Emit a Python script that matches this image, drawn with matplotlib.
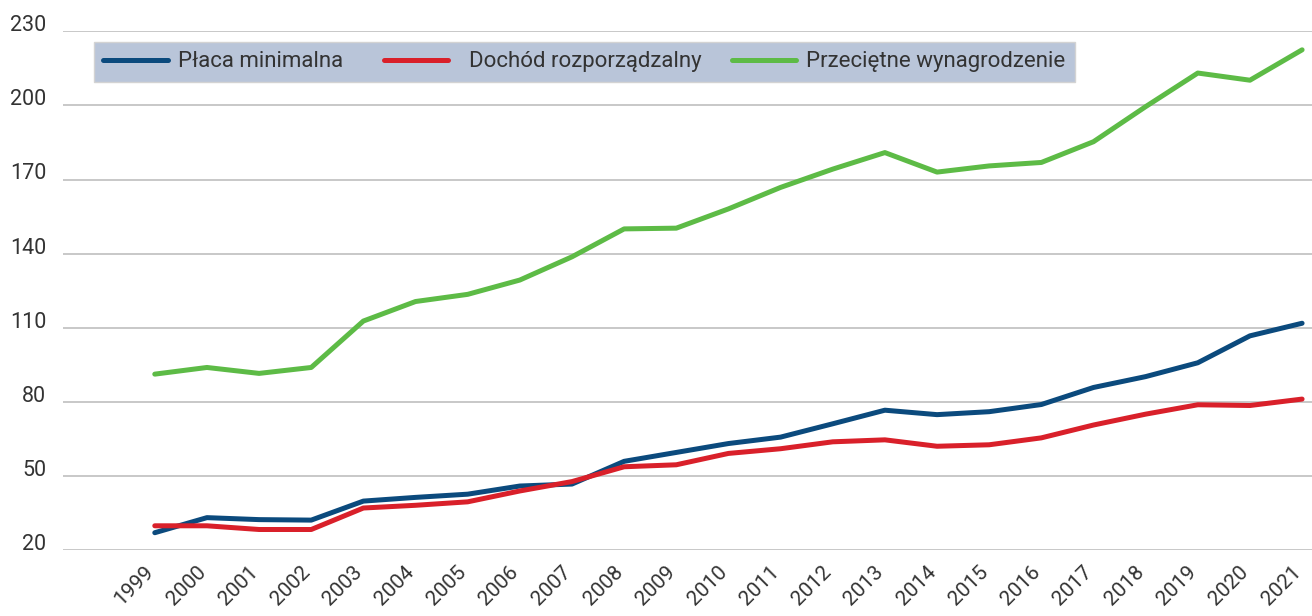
import matplotlib
matplotlib.use('Agg')
import matplotlib.pyplot as plt
import matplotlib.transforms as mtransforms

years = list(range(1999, 2022))

placa_minimalna = [27.0, 33.1, 32.3, 32.1, 39.8, 41.3, 42.6, 45.9, 46.7, 55.9, 59.5,
                   63.1, 65.7, 71.1, 76.6, 74.8, 76.0, 78.9, 85.8, 90.2, 95.8, 106.7, 111.8]
dochod_rozporzadzalny = [29.8, 29.8, 28.3, 28.3, 37.0, 38.1, 39.5, 43.9, 47.7, 53.7, 54.5,
                         59.1, 61.0, 63.8, 64.6, 62.0, 62.6, 65.4, 70.6, 75.0, 78.8, 78.5, 81.1]
przecietne_wynagrodzenie = [91.2, 93.9, 91.5, 93.9, 112.7, 120.6, 123.5, 129.3, 138.7, 150.0, 150.3,
                            158.1, 166.8, 174.2, 180.9, 173.0, 175.5, 176.9, 185.3, 199.5, 213.1, 210.2, 222.5]

y_ticks = [20, 50, 80, 110, 140, 170, 200, 230]

plt.rcParams['font.family'] = ['Roboto', 'DejaVu Sans']

fig = plt.figure(figsize=(13.12, 6.16), dpi=100)
ax = fig.add_axes([63/1312, 1-550/616, 1-63/1312, (550-31.3)/616])

ax.plot(years, placa_minimalna, color='#0b4a7d', lw=3.6, label='Płaca minimalna  ',
        solid_capstyle='round', clip_on=False, zorder=3)
ax.plot(years, dochod_rozporzadzalny, color='#d9202a', lw=3.6, label='  Dochód rozporządzalny',
        solid_capstyle='round', clip_on=False, zorder=3)
ax.plot(years, przecietne_wynagrodzenie, color='#5dbb46', lw=3.6, label='Przeciętne wynagrodzenie',
        solid_capstyle='round', clip_on=False, zorder=3)

ax.set_ylim(20, 230)
ax.set_xlim(1997.24, 2021.19)
ax.set_yticks(y_ticks)
ax.set_xticks(years)
ax.set_xticklabels([str(y) for y in years], rotation=45, ha='right', rotation_mode='anchor')
ax.grid(axis='y', color='#c8c8c8', lw=1.4)
ax.set_axisbelow(True)
for s in ax.spines.values():
    s.set_visible(False)
ax.tick_params(axis='y', length=0, labelsize=15.5, colors='#333333', pad=12)
ax.tick_params(axis='x', length=0, labelsize=15, colors='#333333', pad=9)

# y labels sit a bit above their gridlines
offset = mtransforms.ScaledTranslation(0, 8/100, fig.dpi_scale_trans)
for lab in ax.get_yticklabels():
    lab.set_transform(lab.get_transform() + offset)
# x labels shifted a little left of the tick
xoff = mtransforms.ScaledTranslation(-11/100, 0, fig.dpi_scale_trans)
for lab in ax.get_xticklabels():
    lab.set_transform(lab.get_transform() + xoff)

leg = fig.legend(loc='upper left', bbox_to_anchor=(94/1312, 1-42/616), bbox_transform=fig.transFigure,
                 ncol=3, frameon=True, fancybox=False, borderaxespad=0, fontsize=16,
                 handlelength=2.9, handletextpad=0.45, columnspacing=1.35, borderpad=0.42)
leg.get_frame().set_facecolor('#b9c5d9')
leg.get_frame().set_edgecolor('#d3d3d3')
leg.get_frame().set_alpha(1)
for t in leg.get_texts():
    t.set_color('#333333')

fig.savefig('out.png', dpi=100)
